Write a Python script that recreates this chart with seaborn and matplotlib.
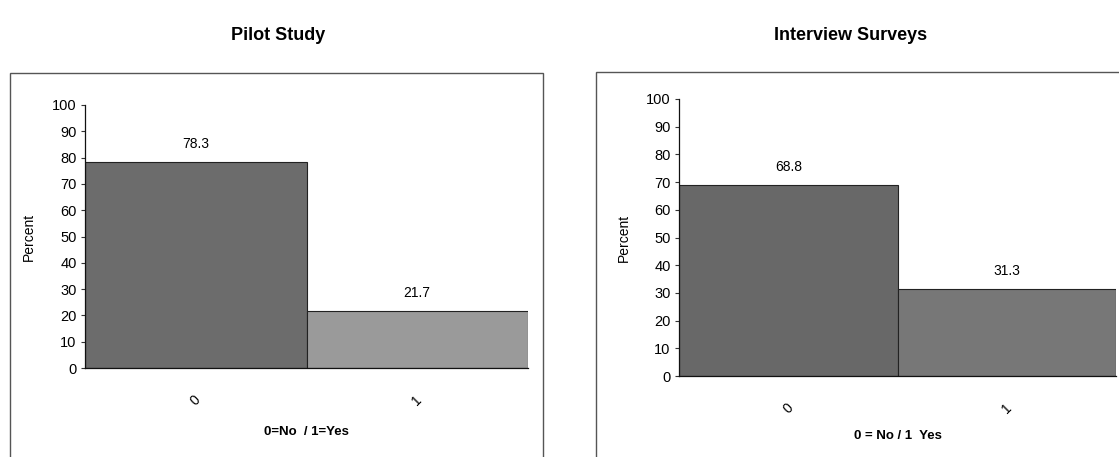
import matplotlib
matplotlib.use("Agg")
import matplotlib.pyplot as plt
import seaborn as sns
import pandas as pd
from matplotlib.patches import Rectangle

categories = ["0", "1"]
pilot_values = [78.3, 21.7]
interview_values = [68.8, 31.3]
titles = ["Pilot Study", "Interview Surveys"]
xlabels = ["0=No  / 1=Yes", "0 = No / 1  Yes"]
y_ticks = list(range(0, 101, 10))

sns.set_theme(style="white")
plt.rcParams['font.family'] = ['Liberation Sans', 'DejaVu Sans']
plt.rcParams['text.color'] = 'black'
plt.rcParams['axes.labelcolor'] = 'black'
plt.rcParams['xtick.color'] = 'black'
plt.rcParams['ytick.color'] = 'black'

W, H = 1119, 457
fig = plt.figure(figsize=(W / 100, H / 100), dpi=100)

def px_axes(x0, x1, ytop, ybot):
    return fig.add_axes([x0 / W, 1 - ybot / H, (x1 - x0) / W, (ybot - ytop) / H])

ax1 = px_axes(85, 528, 105, 368)
ax2 = px_axes(679, 1116, 99, 376)

# frames around each panel
fig.add_artist(Rectangle((10 / W, -0.05), (543 - 10) / W, 1.05 - 73 / H,
                         transform=fig.transFigure, fill=False, ec="#555555", lw=1.0))
fig.add_artist(Rectangle((596 / W, -0.05), (1130 - 596) / W, 1.05 - 72 / H,
                         transform=fig.transFigure, fill=False, ec="#555555", lw=1.0))

panels = [
    (ax1, pilot_values, ["#6c6c6c", "#9a9a9a"], titles[0], xlabels[0], 278),
    (ax2, interview_values, ["#686868", "#777777"], titles[1], xlabels[1], 851),
]

for ax, vals, cols, title, xl, tx in panels:
    df = pd.DataFrame({"cat": categories, "val": vals})
    sns.barplot(data=df, x="cat", y="val", hue="cat", palette=cols, width=1.0,
                legend=False, ax=ax, edgecolor="#222222", linewidth=0.8, saturation=1)
    ax.set_xlim(-0.5, 1.5)
    ax.set_ylim(0, 100)
    ax.set_yticks(y_ticks)
    ax.tick_params(axis="y", left=True, length=3, width=0.8, color="#333333",
                   labelsize=10.5, pad=3)
    ax.tick_params(axis="x", bottom=False, labelsize=10, pad=12)
    for lab in ax.get_xticklabels():
        lab.set_rotation(45)
        lab.set_ha("center")
    for s in ["top", "right"]:
        ax.spines[s].set_visible(False)
    for s in ["left", "bottom"]:
        ax.spines[s].set_color("#111111")
        ax.spines[s].set_linewidth(0.9)
    ax.set_ylabel("Percent", fontsize=10)
    ax.yaxis.set_label_coords(-0.11, 0.5)
    ax.set_xlabel(xl, fontsize=9.5, fontweight="bold")
    for i, v in enumerate(vals):
        ax.annotate(f"{v:.1f}", (i, v), xytext=(0, 13), textcoords="offset points",
                    ha="center", va="center", fontsize=10)
    fig.text(tx / W, 1 - 35 / H, title, ha="center", va="center",
             fontsize=13, fontweight="bold")

ax1.xaxis.set_label_coords(0.5, -0.22)
ax2.xaxis.set_label_coords(0.5, -0.195)

fig.savefig("out.png", dpi=100)
